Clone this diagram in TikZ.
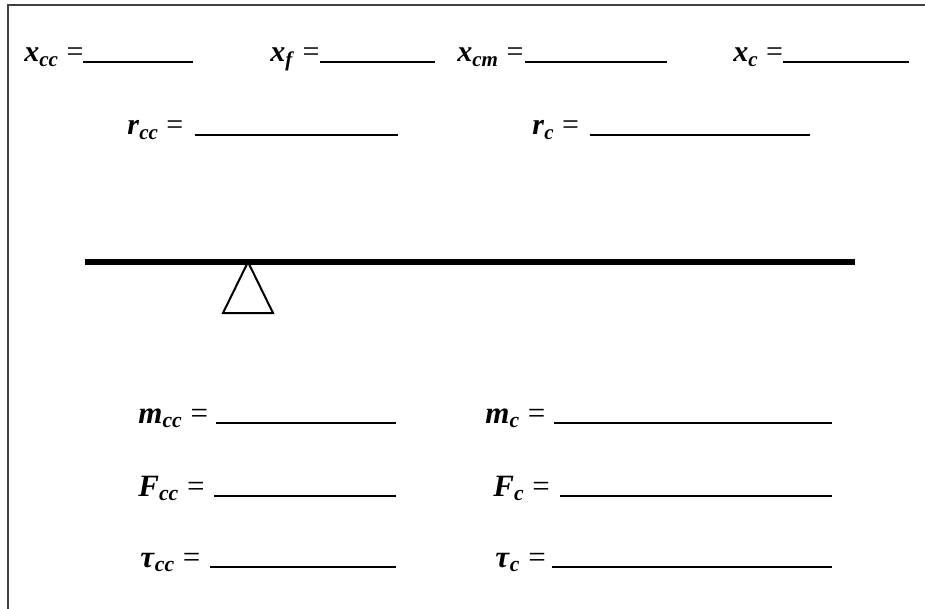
\documentclass[tikz,border=0pt]{standalone}
\usepackage{fontspec}
\setmainfont{Liberation Serif}
\usetikzlibrary{positioning}
\newcommand{\vsym}[2]{\textbf{\textit{#1}}\textsubscript{\textbf{\textit{#2}}}}
\tikzset{
    lbl/.style={anchor=base west, inner sep=0pt, font=\fontsize{15}{17}\selectfont},
    blank/.style={line width=1pt, draw=black},
    beam/.style={line width=3pt, draw=black},
    frame/.style={line width=0.8pt, draw=black!75},
}

\begin{document}
\begin{tikzpicture}[x=0.5pt, y=-0.5pt]
    \useasboundingbox (0,0) rectangle (925,609);
    % frame (only top and left edges show)
    \draw[frame] (925,5) -- (8,5) -- (8,609);
    % positions along the beam
    \node[lbl] (xcc) at (24,62)  {\vsym{x}{cc} =};
    \node[lbl] (xf)  at (270,62) {\vsym{x}{f} =};
    \node[lbl] (xcm) at (457,62) {\vsym{x}{cm} =};
    \node[lbl] (xc)  at (733,62) {\vsym{x}{c} =};
    \draw[blank] (83,62)  -- (193,62);
    \draw[blank] (320,62) -- (435,62);
    \draw[blank] (525,62) -- (667,62);
    \draw[blank] (783,62) -- (909,62);
    % lever arms
    \node[lbl] (rcc) at (127,135) {\vsym{r}{cc} = };
    \node[lbl] (rc)  at (532,135) {\vsym{r}{c} = };
    \draw[blank] (195,135) -- (398,135);
    \draw[blank] (590,135) -- (810,135);
    % beam on fulcrum
    \draw[line width=1pt, line join=miter] (248,262) -- (223,313) -- (273,313) -- cycle;
    \draw[beam] (85,262) -- (855,262);
    % masses, forces, torques
    \begin{scope}[lbl/.append style={font=\fontsize{15.5}{18}\selectfont}]
    \node[lbl] (mcc) at (138,423) {\vsym{m}{cc} = };
    \node[lbl] (mc)  at (485,423) {\vsym{m}{c} = };
    \node[lbl] (Fcc) at (138,496) {\vsym{F}{cc} = };
    \node[lbl] (Fc)  at (493,496) {\vsym{F}{c} = };
    \node[lbl] (tcc) at (140,567) {\vsym{τ}{cc} = };
    \node[lbl] (tc)  at (495,567) {\vsym{τ}{c} = };
    \end{scope}
    \draw[blank] (216,423) -- (396,423);
    \draw[blank] (554,423) -- (832,423);
    \draw[blank] (214,496) -- (396,496);
    \draw[blank] (560,496) -- (832,496);
    \draw[blank] (210,567) -- (396,567);
    \draw[blank] (552,567) -- (832,567);
\end{tikzpicture}
\end{document}
